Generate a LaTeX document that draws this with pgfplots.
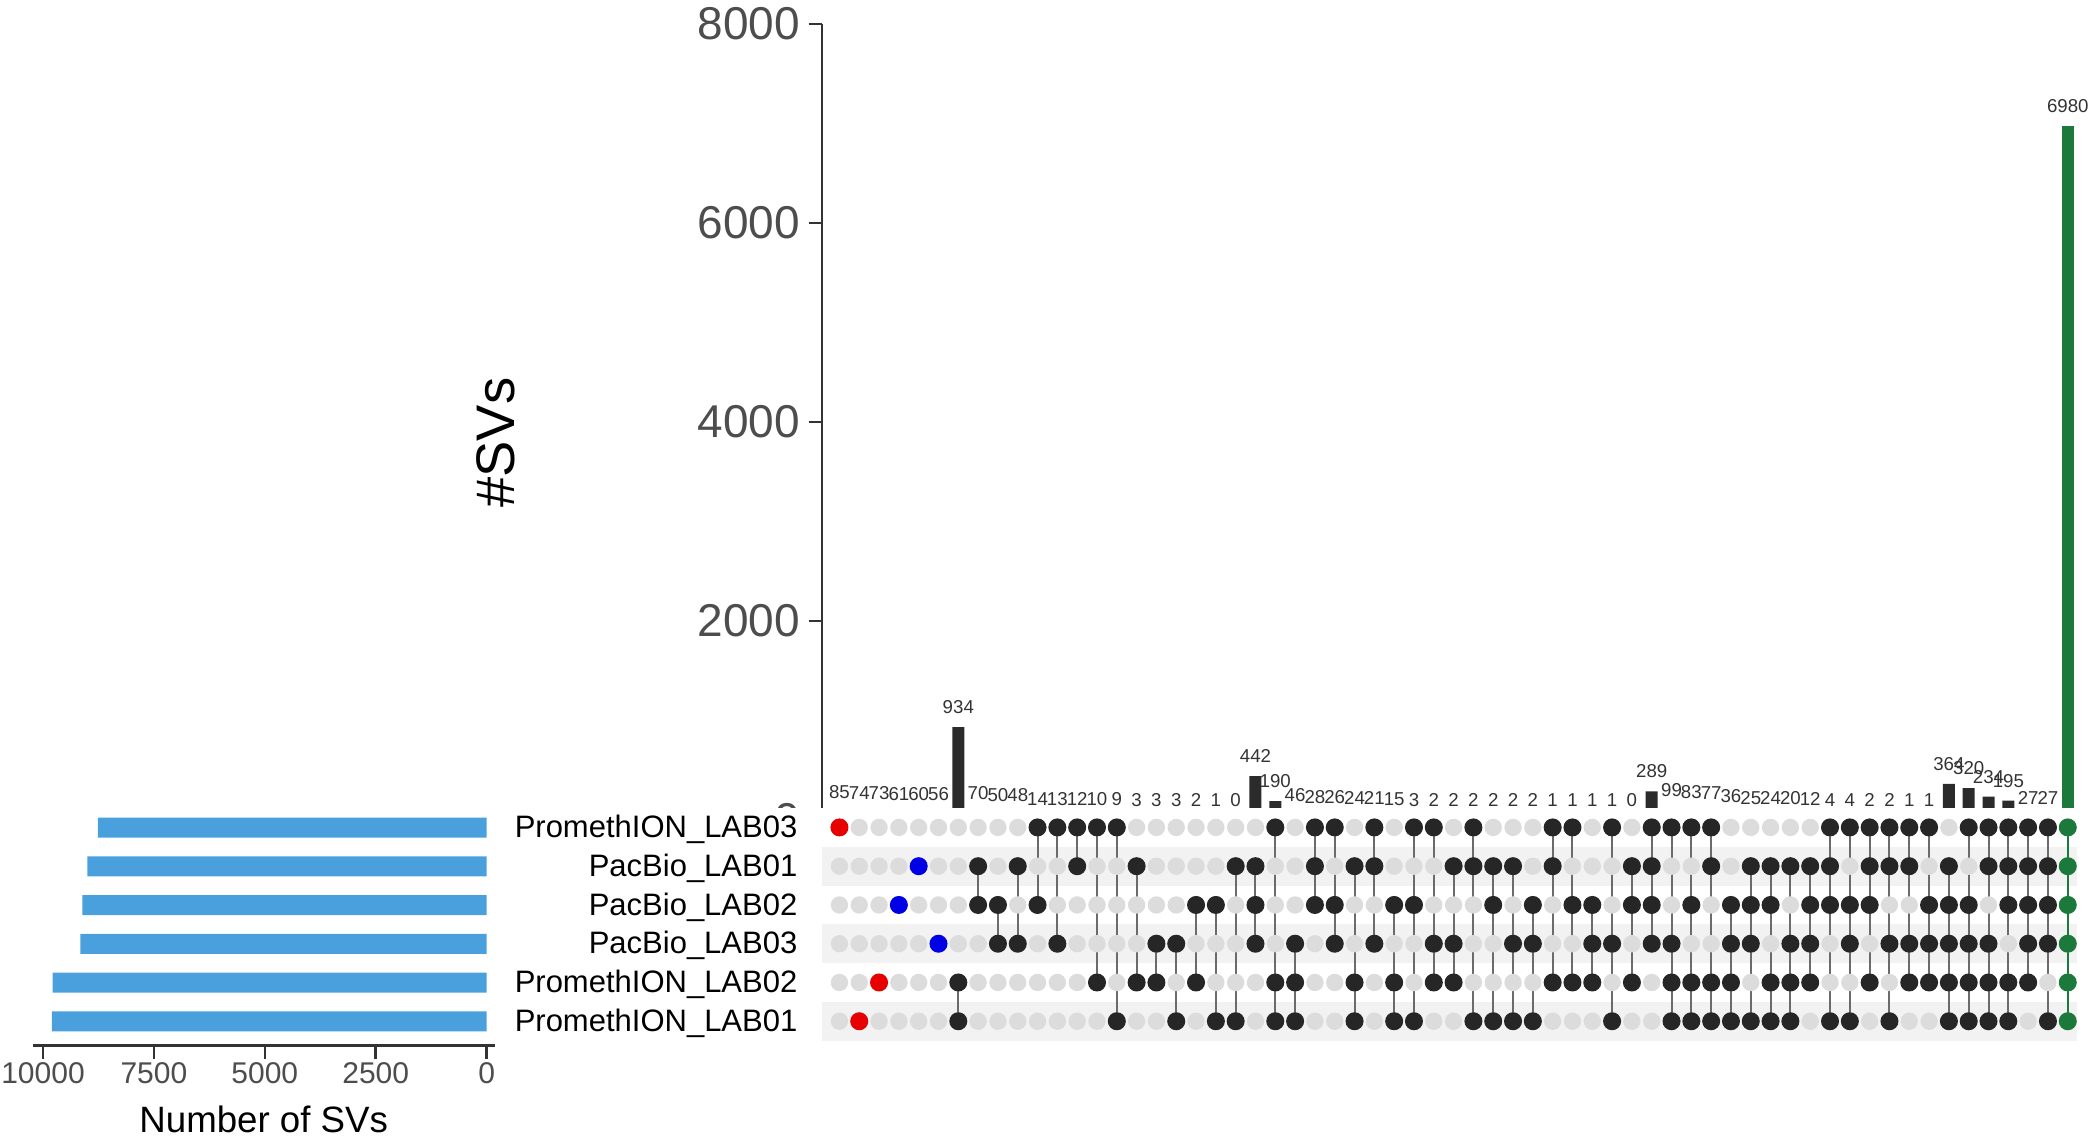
\documentclass[border=0pt]{standalone}
\usepackage{pgfplots}
\pgfplotsset{compat=1.18}
\usepackage{pgfplotstable}
\usepackage{fontspec}
\setmainfont{Liberation Sans}
\pgfkeys{/pgf/number format/1000 sep={}, /pgf/number format/assume math mode=true}
\definecolor{axcol}{HTML}{333333}
\definecolor{ticklab}{HTML}{4D4D4D}
\definecolor{labcol}{HTML}{333333}
\definecolor{bardark}{HTML}{2B2B2B}
\definecolor{svgreen}{HTML}{1B7A3B}
\definecolor{setblue}{HTML}{4A9FDD}
\definecolor{dotk}{HTML}{262626}
\definecolor{dotr}{HTML}{E60000}
\definecolor{dotb}{HTML}{0000E6}
\definecolor{lightdot}{HTML}{DCDCDC}
\definecolor{stripe}{HTML}{F2F2F2}
\definecolor{linecol}{HTML}{6B6B6B}
\newcommand\fs[1]{\fontsize{#1}{#1}\selectfont}

\pgfplotstableread{
c v P3 B1 B2 B3 P2 P1 t hi lo
0 85 1 0 0 0 0 0 r 5 5
1 74 0 0 0 0 0 1 r 0 0
2 73 0 0 0 0 1 0 r 1 1
3 61 0 0 1 0 0 0 b 3 3
4 60 0 1 0 0 0 0 b 4 4
5 56 0 0 0 1 0 0 b 2 2
6 934 0 0 0 0 1 1 k 1 0
7 70 0 1 1 0 0 0 k 4 3
8 50 0 0 1 1 0 0 k 3 2
9 48 0 1 0 1 0 0 k 4 2
10 14 1 0 1 0 0 0 k 5 3
11 13 1 0 0 1 0 0 k 5 2
12 12 1 1 0 0 0 0 k 5 4
13 10 1 0 0 0 1 0 k 5 1
14 9 1 0 0 0 0 1 k 5 0
15 3 0 1 0 0 1 0 k 4 1
16 3 0 0 0 1 1 0 k 2 1
17 3 0 0 0 1 0 1 k 2 0
18 2 0 0 1 0 1 0 k 3 1
19 1 0 0 1 0 0 1 k 3 0
20 0 0 1 0 0 0 1 k 4 0
21 442 0 1 1 1 0 0 k 4 2
22 190 1 0 0 0 1 1 k 5 0
23 46 0 0 0 1 1 1 k 2 0
24 28 1 1 1 0 0 0 k 5 3
25 26 1 0 1 1 0 0 k 5 2
26 24 0 1 0 0 1 1 k 4 0
27 21 1 1 0 1 0 0 k 5 2
28 15 0 0 1 0 1 1 k 3 0
29 3 1 0 1 0 0 1 k 5 0
30 2 1 0 0 1 1 0 k 5 1
31 2 0 1 0 1 1 0 k 4 1
32 2 1 1 0 0 0 1 k 5 0
33 2 0 1 1 0 0 1 k 4 0
34 2 0 1 0 1 0 1 k 4 0
35 2 0 0 1 1 0 1 k 3 0
36 1 1 1 0 0 1 0 k 5 1
37 1 1 0 1 0 1 0 k 5 1
38 1 0 0 1 1 1 0 k 3 1
39 1 1 0 0 1 0 1 k 5 0
40 0 0 1 1 0 1 0 k 4 1
41 289 1 1 1 1 0 0 k 5 2
42 99 1 0 0 1 1 1 k 5 0
43 83 1 0 1 0 1 1 k 5 0
44 77 1 1 0 0 1 1 k 5 0
45 36 0 0 1 1 1 1 k 3 0
46 25 0 1 1 1 0 1 k 4 0
47 24 0 1 1 0 1 1 k 4 0
48 20 0 1 0 1 1 1 k 4 0
49 12 0 1 1 1 1 0 k 4 1
50 4 1 1 1 0 0 1 k 5 0
51 4 1 0 1 1 0 1 k 5 0
52 2 1 1 1 0 1 0 k 5 1
53 2 1 1 0 1 0 1 k 5 0
54 1 1 1 0 1 1 0 k 5 1
55 1 1 0 1 1 1 0 k 5 1
56 364 0 1 1 1 1 1 k 4 0
57 320 1 0 1 1 1 1 k 5 0
58 234 1 1 0 1 1 1 k 5 0
59 195 1 1 1 0 1 1 k 5 0
60 27 1 1 1 1 1 0 k 5 1
61 27 1 1 1 1 0 1 k 5 0
62 6980 1 1 1 1 1 1 g 5 0
}\upset

\pgfplotsset{
  memberdots/.style={scatter, only marks, mark=*, mark size=2.5pt,
    scatter src=explicit symbolic,
    scatter/classes={
      k={mark=*,draw=dotk,fill=dotk},
      r={mark=*,draw=dotr,fill=dotr},
      b={mark=*,draw=dotb,fill=dotb},
      g={mark=*,draw=svgreen,fill=svgreen}}},
  bglabels/.style={nodes near coords,
    nodes near coords style={font=\fs{5.6pt}, text=labcol, inner sep=0pt, anchor=south, yshift=3.8pt}},
}

\begin{document}
\begin{tikzpicture}
% ---------- intersection size bars ----------
\begin{axis}[
  at={(246.6pt,-246pt)}, anchor=south west, scale only axis,
  width=376.4pt, height=238.8pt,
  xmin=-0.88, xmax=62.45, ymin=0, ymax=8000,
  axis y line=left, axis x line=none,
  y axis line style={-, line width=0.7pt, draw=axcol},
  ytick={0,2000,4000,6000,8000},
  tick align=outside, major tick length=4pt,
  ytick style={line width=0.75pt, draw=axcol},
  yticklabel style={font=\fs{13.8pt}, text=ticklab, inner sep=0pt, xshift=-2.4pt},
  scaled ticks=false,
  clip=false,
]
\addplot[ybar, bar width=3.6pt, fill=bardark, draw=none, restrict x to domain=0:61, bglabels] table[x=c, y=v] {\upset};
\addplot[ybar, bar width=3.6pt, fill=svgreen, draw=none, restrict x to domain=62:62, bglabels] table[x=c, y=v] {\upset};
\end{axis}
\node[rotate=90, font=\fs{16.3pt}, text=black] at (148.8pt,-132.75pt) {\#SVs};

\fill[white] (150pt,-242.4pt) rectangle (628.8pt,-312.3pt);

% ---------- matrix ----------
\begin{axis}[
  at={(246.6pt,-312.18pt)}, anchor=south west, scale only axis,
  width=376.4pt, height=69.77pt,
  xmin=-0.88, xmax=62.45, ymin=-0.5, ymax=5.5,
  axis x line=none, axis y line=left,
  y axis line style={draw=none},
  ytick={0,1,2,3,4,5},
  yticklabels={PromethION\_LAB01, PromethION\_LAB02, PacBio\_LAB03, PacBio\_LAB02, PacBio\_LAB01, PromethION\_LAB03},
  major tick length=0pt,
  yticklabel style={font=\fs{9.3pt}, text=black, inner sep=0pt, anchor=east, xshift=-7.2pt, yshift=-0.6pt},
  clip=false,
]
\addplot[line width=11.63pt, stripe] coordinates {(-0.88,4) (62.45,4)};
\addplot[line width=11.63pt, stripe] coordinates {(-0.88,2) (62.45,2)};
\addplot[line width=11.63pt, stripe] coordinates {(-0.88,0) (62.45,0)};
\pgfplotsinvokeforeach{0,1,2,3,4,5}{
  \addplot[only marks, mark=*, mark size=2.4pt, draw=lightdot, fill=lightdot] table[x=c, y expr=#1] {\upset};
}
\addplot[draw=none, mark=none, restrict x to domain=6:61,
  error bars/.cd, y dir=both, y explicit, error mark=none,
  error bar style={draw=linecol, line width=0.6pt}]
  table[x=c, y expr=(\thisrow{hi}+\thisrow{lo})/2, y error expr=(\thisrow{hi}-\thisrow{lo})/2] {\upset};
\addplot[draw=none, mark=none, restrict x to domain=62:62,
  error bars/.cd, y dir=both, y explicit, error mark=none,
  error bar style={draw=svgreen, line width=0.6pt}]
  table[x=c, y expr=(\thisrow{hi}+\thisrow{lo})/2, y error expr=(\thisrow{hi}-\thisrow{lo})/2] {\upset};
\addplot[memberdots, restrict expr to domain={\thisrow{P3}}{0.5:1.5}] table[x=c, y expr=5, meta=t] {\upset};
\addplot[memberdots, restrict expr to domain={\thisrow{B1}}{0.5:1.5}] table[x=c, y expr=4, meta=t] {\upset};
\addplot[memberdots, restrict expr to domain={\thisrow{B2}}{0.5:1.5}] table[x=c, y expr=3, meta=t] {\upset};
\addplot[memberdots, restrict expr to domain={\thisrow{B3}}{0.5:1.5}] table[x=c, y expr=2, meta=t] {\upset};
\addplot[memberdots, restrict expr to domain={\thisrow{P2}}{0.5:1.5}] table[x=c, y expr=1, meta=t] {\upset};
\addplot[memberdots, restrict expr to domain={\thisrow{P1}}{0.5:1.5}] table[x=c, y expr=0, meta=t] {\upset};
\end{axis}

% ---------- set sizes ----------
\begin{axis}[
  at={(9.84pt,-313.59pt)}, anchor=south west, scale only axis,
  width=138.54pt, height=71.16pt,
  xmin=-180, xmax=10230, x dir=reverse, ymin=-0.62, ymax=5.5,
  axis x line=bottom, axis y line=none,
  x axis line style={-, line width=0.75pt, draw=axcol},
  xtick={0,2500,5000,7500,10000},
  tick align=outside, major tick length=4pt,
  xtick style={line width=0.75pt, draw=axcol},
  xticklabel style={font=\fs{9pt}, text=ticklab, inner sep=0pt, yshift=-1pt},
  scaled ticks=false,
  xlabel={Number of SVs},
  xlabel style={font=\fs{11pt}, text=black, inner sep=0pt, yshift=-6.3pt},
  clip=false,
]
\addplot[xbar, bar width=6pt, fill=setblue, draw=none] coordinates {(8763,5) (9000,4) (9111,3) (9159,2) (9782,1) (9802,0)};
\end{axis}

\pgfresetboundingbox
\path[use as bounding box] (0pt,0pt) rectangle (628.8pt,-343.8pt);
\end{tikzpicture}
\end{document}
